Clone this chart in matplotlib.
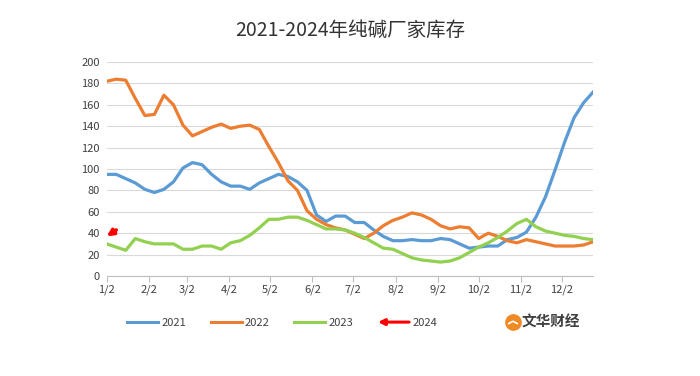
import matplotlib

matplotlib.use("Agg")
import matplotlib.pyplot as plt
import numpy as np
from matplotlib.legend_handler import HandlerBase
from matplotlib.lines import Line2D
from matplotlib.patches import FancyArrowPatch

plt.rcParams["font.family"] = ["Noto Sans CJK SC", "DejaVu Sans"]

title = "2021-2024年纯碱厂家库存"
series_names = ["2021", "2022", "2023", "2024"]

# weekly values, first point = 1/2
inv_2021 = [95, 95, 91, 87, 81, 78, 81, 88, 101, 106, 104, 95, 88, 84, 84, 81, 87, 91, 95, 93,
            88, 80, 57, 51, 56, 56, 50, 50, 43, 37, 33, 33, 34, 33, 33, 35, 34, 30, 26, 27,
            28, 28, 34, 36, 41, 55, 74, 99, 125, 148, 162, 172]
inv_2022 = [182, 184, 183, 166, 150, 151, 169, 160, 141, 131, 135, 139, 142, 138, 140, 141, 137, 121, 106, 89,
            80, 61, 53, 48, 45, 43, 39, 35, 40, 47, 52, 55, 59, 57, 53, 47, 44, 46, 45, 35,
            40, 37, 33, 31, 34, 32, 30, 28, 28, 28, 29, 32]
inv_2023 = [30, 27, 24, 35, 32, 30, 30, 30, 25, 25, 28, 28, 25, 31, 33, 38, 45, 53, 53, 55,
            55, 52, 48, 44, 44, 43, 40, 36, 31, 26, 25, 21, 17, 15, 14, 13, 14, 17, 22, 27,
            31, 36, 42, 49, 53, 46, 42, 40, 38, 37, 35, 34]
inv_2024 = [37, 43]

tick_labels = ["1/2", "2/2", "3/2", "4/2", "5/2", "6/2", "7/2", "8/2", "9/2", "10/2", "11/2", "12/2"]
tick_days = [0, 31, 59, 90, 120, 151, 181, 212, 243, 273, 304, 334]  # days after 1/2

colors = ["#5B9BD5", "#ED7D31", "#92D050", "#FF0000"]


class ArrowHandler(HandlerBase):
    def create_artists(self, legend, orig_handle, xdescent, ydescent, width, height, fontsize, trans):
        y = height / 2 - ydescent
        arr = FancyArrowPatch((width - xdescent, y), (-xdescent, y), arrowstyle="-|>",
                              mutation_scale=9, color=orig_handle.get_color(), lw=2.2,
                              shrinkA=0, shrinkB=0, transform=trans)
        return [arr]


fig = plt.figure(figsize=(7, 3.76), dpi=100)
ax = fig.add_axes([0.1524, 0.266, 0.695, 0.569])

weeks = np.arange(len(inv_2021))
for vals, col in zip([inv_2021, inv_2022, inv_2023], colors[:3]):
    ax.plot(np.arange(len(vals)), vals, color=col, lw=2.3, solid_joinstyle="round")

x24 = np.arange(len(inv_2024))
ax.annotate("", xy=(x24[0], inv_2024[0]), xytext=(x24[-1], inv_2024[-1]),
            arrowprops=dict(arrowstyle="-|>", color=colors[3], lw=2.6, mutation_scale=9,
                            shrinkA=0, shrinkB=0))

ax.set_xlim(0, len(weeks) - 1)
ax.set_ylim(0, 200)
ax.set_yticks(np.arange(0, 201, 20))
ax.set_xticks(np.array(tick_days) / 7)
ax.set_xticklabels(tick_labels)
ax.grid(axis="y", color="#D9D9D9", lw=0.8)
ax.set_axisbelow(True)
for side in ["left", "right", "top"]:
    ax.spines[side].set_visible(False)
ax.spines["bottom"].set_color("#BFBFBF")
ax.tick_params(axis="y", length=0, labelsize=8, colors="#404040", pad=5)
ax.tick_params(axis="x", length=4, color="#BFBFBF", labelsize=8, labelcolor="#404040", pad=2)

fig.text(0.5, 0.92, title, ha="center", va="center", fontsize=14, color="#333333")

handles = [Line2D([], [], color=c, lw=2.2) for c in colors]
fig.legend(handles, series_names, loc="center", bbox_to_anchor=(0.403, 0.141), ncol=4,
           frameon=False, fontsize=8, handlelength=2.8, handletextpad=0.3, columnspacing=2.2,
           handler_map={handles[3]: ArrowHandler()}, labelcolor="#404040")

# watermark logo
lx, ly = 513 / 700, 1 - 322 / 376
fig.add_artist(Line2D([lx], [ly], marker="o", markersize=11, color="#F08A24",
                      transform=fig.transFigure))
fig.add_artist(Line2D([lx - 0.006, lx, lx + 0.006], [ly - 0.004, ly + 0.002, ly - 0.004],
                      color="white", lw=1.2, transform=fig.transFigure))
fig.text(522 / 700, ly, "文华财经", ha="left", va="center", fontsize=10.5,
         fontweight="bold", color="#404040")

fig.savefig("out.png", dpi=100, facecolor="white")
